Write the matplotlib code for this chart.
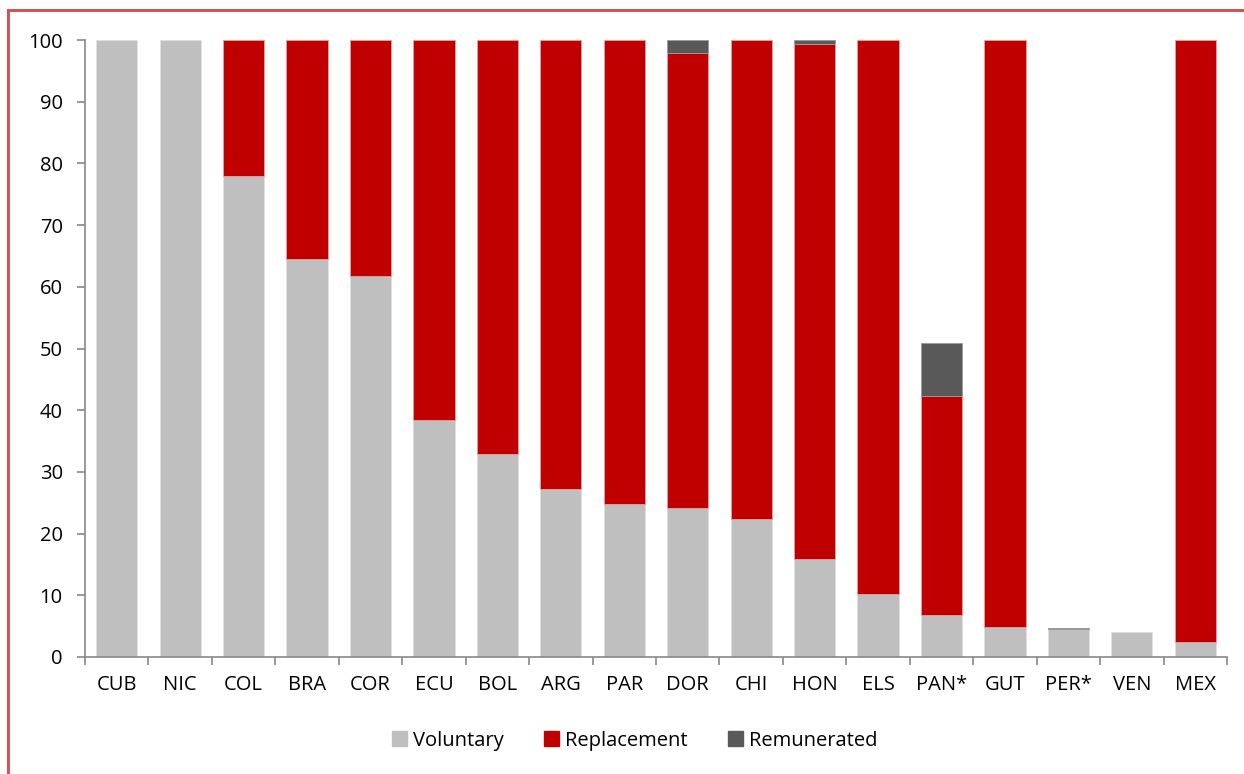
import numpy as np
import matplotlib.pyplot as plt
from matplotlib.lines import Line2D
from matplotlib.patches import Patch

plt.rcParams['font.family'] = ['Open Sans', 'DejaVu Sans']

countries = ['CUB', 'NIC', 'COL', 'BRA', 'COR', 'ECU', 'BOL', 'ARG', 'PAR',
             'DOR', 'CHI', 'HON', 'ELS', 'PAN*', 'GUT', 'PER*', 'VEN', 'MEX']
voluntary = [100, 100, 78.0, 64.5, 61.7, 38.4, 32.9, 27.2, 24.8,
             24.1, 22.3, 15.9, 10.2, 6.8, 4.9, 4.5, 4.0, 2.4]
replacement = [0, 0, 22.0, 35.5, 38.3, 61.6, 67.1, 72.8, 75.2,
               73.8, 77.7, 83.5, 89.8, 35.5, 95.1, 0, 0, 97.6]
remunerated = [0, 0, 0, 0, 0, 0, 0, 0, 0,
               2.1, 0, 0.6, 0, 8.6, 0, 0.15, 0, 0]

c_vol = '#bfbfbf'
c_rep = '#c00000'
c_rem = '#595959'

fig = plt.figure(figsize=(12.44, 7.74), dpi=100)
ax = fig.add_axes([0.0683, 0.1512, 0.918, 0.797])

x = np.arange(len(countries))
vol = np.array(voluntary)
rep = np.array(replacement)
rem = np.array(remunerated)
w = 0.65


def edge_w(vals):
    return [0.6 if v > 0 else 0 for v in vals]


ax.bar(x, vol, w, color=c_vol, edgecolor='#e0e0e0', lw=edge_w(vol))
ax.bar(x, rep, w, bottom=vol, color=c_rep, edgecolor='#e6a0a0', lw=edge_w(rep))
ax.bar(x, rem, w, bottom=vol + rep, color=c_rem, edgecolor='#9a9a9a', lw=edge_w(rem))

ax.set_xlim(-0.5, len(countries) - 0.5)
ax.set_ylim(0, 100)
ax.set_yticks(range(0, 101, 10))
ax.set_xticks(x)
ax.set_xticklabels(countries)
ax.set_xticks(np.arange(-0.5, len(countries)), minor=True)
ax.tick_params(axis='x', which='major', length=0, pad=13, labelsize=14.5)
ax.tick_params(axis='x', which='minor', length=6, color='#888888', width=1.2)
ax.tick_params(axis='y', length=6, color='#888888', width=1.2, labelsize=14.5, pad=10)

for s in ['top', 'right']:
    ax.spines[s].set_visible(False)
for s in ['left', 'bottom']:
    ax.spines[s].set_color('#888888')
    ax.spines[s].set_linewidth(1.2)

handles = [Patch(color=c_vol, label='Voluntary'),
           Patch(color=c_rep, label='Replacement'),
           Patch(color=c_rem, label='Remunerated')]
fig.legend(handles=handles, loc='center', bbox_to_anchor=(0.51, 0.043), ncol=3,
           frameon=False, fontsize=14.5, handlelength=0.75, handleheight=0.75,
           handletextpad=0.3, columnspacing=2.0)

# frame around the chart
fig.add_artist(Line2D([0.0064, 1.0], [0.987, 0.987], color='#c85a5a', lw=2.2,
                      transform=fig.transFigure))
fig.add_artist(Line2D([0.0064, 0.0064], [0.0, 0.987], color='#c85a5a', lw=2.2,
                      transform=fig.transFigure))

plt.savefig('out.png', dpi=100)
